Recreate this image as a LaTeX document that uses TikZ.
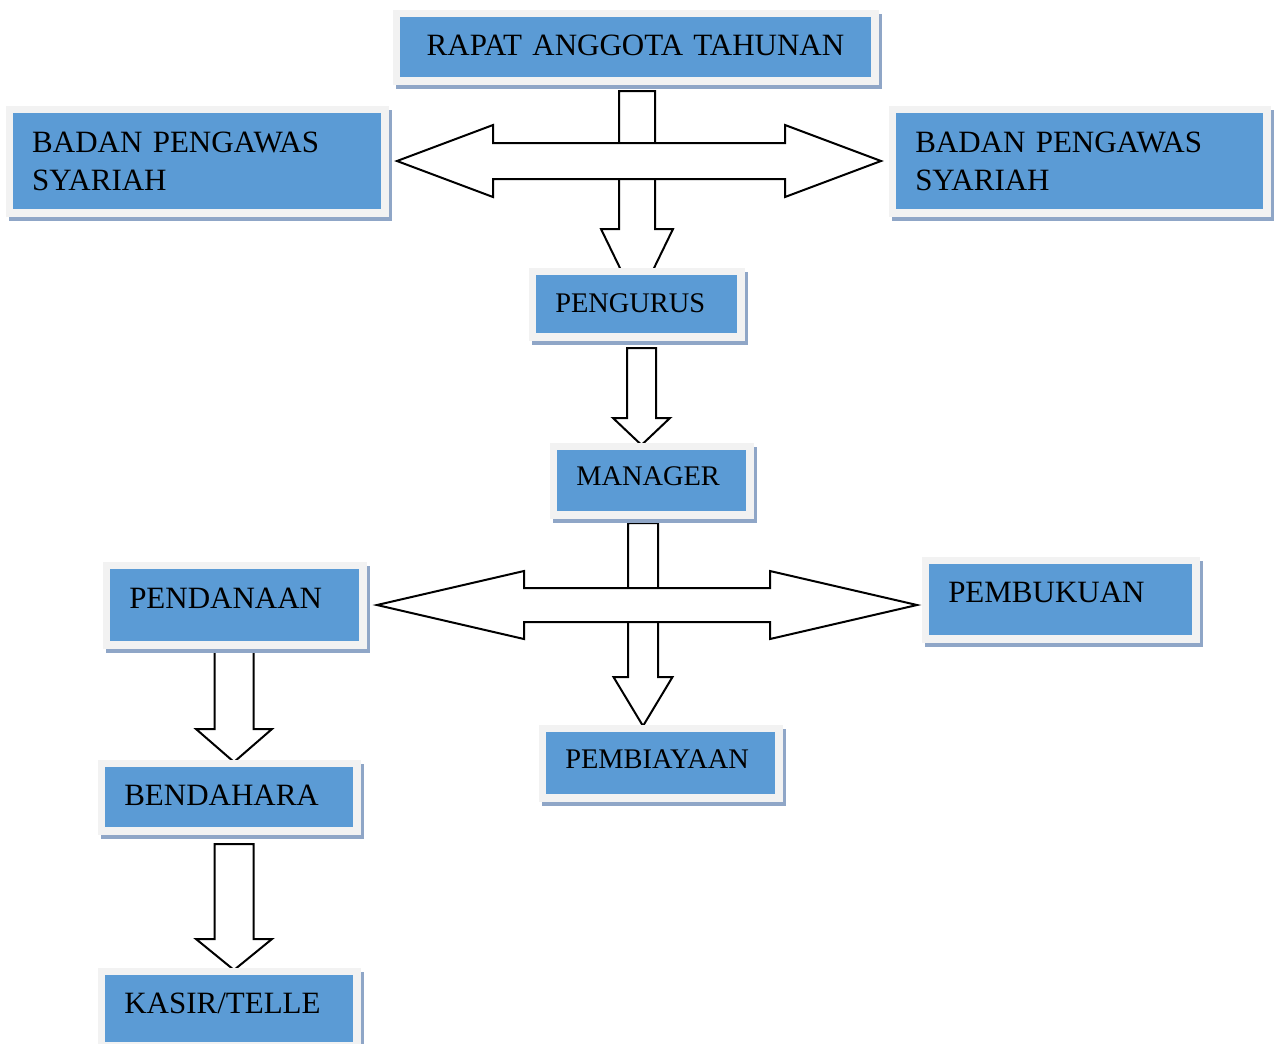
\documentclass[tikz,border=0pt]{standalone}
\usepackage{fontspec}
\setmainfont{Liberation Serif}
\usetikzlibrary{calc,shadows}

\definecolor{boxblue}{RGB}{91,155,213}
\definecolor{framegray}{RGB}{242,242,242}
\definecolor{shadowblue}{RGB}{143,166,199}

\newlength{\pu}
\setlength{\pu}{0.3871pt}

\pgfdeclarelayer{background}
\pgfsetlayers{background,main}

% block arrow pointing down: x, from, to, gap, overlap, half shaft, half head, head length
\newcommand{\blkdown}[8]{%
  \path (#1,0 |- #2.south) ++(0,#4) coordinate (t)
        (#1,0 |- #3.north) ++(0,#5) coordinate (p);
  \draw[blk] ($(t)+(-#6,0)$) -- ($(p)+(-#6,-#8)$) -- ($(p)+(-#7,-#8)$) -- (p)
    -- ($(p)+(#7,-#8)$) -- ($(p)+(#6,-#8)$) -- ($(t)+(#6,0)$) -- cycle;}

% block arrow with two heads: left, right, gap left, gap right, half shaft, half head, head length
\newcommand{\blkboth}[7]{%
  \path (#1.east) ++(#3,0) coordinate (l)
        (#2.west |- #1.east) ++(-#4,0) coordinate (r);
  \draw[blk] (l) -- ($(l)+(#7,-#6)$) -- ($(l)+(#7,-#5)$) -- ($(r)+(-#7,-#5)$)
    -- ($(r)+(-#7,-#6)$) -- (r) -- ($(r)+(-#7,#6)$) -- ($(r)+(-#7,#5)$)
    -- ($(l)+(#7,#5)$) -- ($(l)+(#7,#6)$) -- cycle;}

\begin{document}
\begin{tikzpicture}[x=\pu,y=-\pu]

    \tikzstyle{box} = [draw=framegray, fill=boxblue, line width=7.5\pu,
    anchor=north west, inner xsep=23\pu, inner ysep=0pt, align=left,
    font=\fontsize{12}{14.8}\selectfont,
    drop shadow={shadow xshift=3\pu, shadow yshift=-4\pu, fill=shadowblue,
    draw=shadowblue, line width=7.5\pu, opacity=1}]

    \tikzstyle{small} = [font=\fontsize{11}{13}\selectfont]

    \tikzstyle{blk} = [draw=black, fill=white, line width=2\pu, line join=miter]

    \useasboundingbox (0,0) rectangle (1277,1043);

    \draw
    (392.5,9.5) node [box, align=center, text width=432.5\pu, text height=41.75\pu, text depth=25.75\pu] (rat) {RAPAT ANGGOTA TAHUNAN}
    (5.5,105.5) node [box, text width=329.5\pu, text height=42.75\pu, text depth=60.75\pu] (bpsl) {BADAN PENGAWAS\\SYARIAH}
    (888.5,105.5) node [box, text width=328.5\pu, text height=42.75\pu, text depth=60.75\pu] (bpsr) {BADAN PENGAWAS\\SYARIAH}
    (528.5,267.5) node [box, small, text width=162.5\pu, text height=40.75\pu, text depth=24.75\pu] (pgr) {PENGURUS}
    (549.5,442.5) node [box, small, text width=150.5\pu, text height=38.75\pu, text depth=29.75\pu] (mgr) {MANAGER}
    (102.5,561.5) node [box, text width=210.5\pu, text height=42.75\pu, text depth=36.75\pu] (pdn) {PENDANAAN}
    (921.5,556.5) node [box, text width=224.5\pu, text height=41.75\pu, text depth=36.75\pu] (pbk) {PEMBUKUAN}
    (538.5,724.5) node [box, small, text width=190.5\pu, text height=39.75\pu, text depth=29.75\pu] (pby) {PEMBIAYAAN}
    (97.5,759.5) node [box, text width=209.5\pu, text height=41.75\pu, text depth=25.75\pu] (bdh) {BENDAHARA}
    (97.5,967.5) node [box, text width=209.5\pu, text height=41.75\pu, text depth=33\pu] (ksr) {KASIR/TELLE}
    ;

    \begin{pgfonlayer}{background}
    \blkdown{637}{rat}{pgr}{6.5}{35.5}{18}{36}{74}
    \blkboth{bpsl}{bpsr}{8.5}{7.5}{18}{36}{96}
    \blkdown{641.5}{pgr}{mgr}{7.5}{2.5}{14.5}{28.5}{27}
    \blkdown{643}{mgr}{pby}{4.5}{1.5}{15}{29.5}{49}
    \blkboth{pdn}{pbk}{10.5}{4.5}{17}{34}{147}
    \blkdown{234}{pdn}{bdh}{-1.5}{2.5}{19.5}{38}{33}
    \blkdown{234}{bdh}{ksr}{9.5}{2.5}{19.5}{38}{31}
    \end{pgfonlayer}
  \end{tikzpicture}
\end{document}
